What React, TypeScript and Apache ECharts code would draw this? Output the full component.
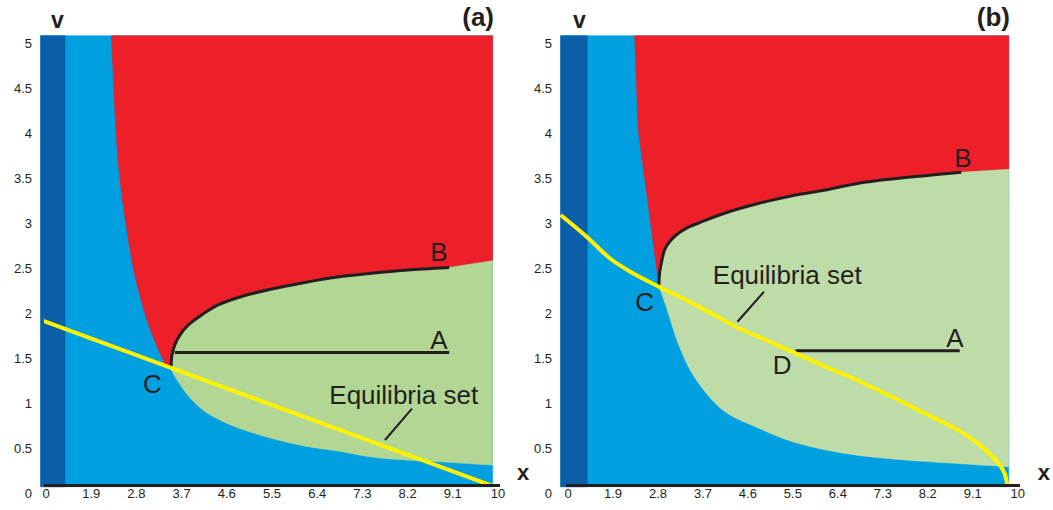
import React, { useEffect, useRef } from "react";
import * as echarts from "echarts";

// ---------- tick labels ----------
const xTickLabels = ["0", "1.9", "2.8", "3.7", "4.6", "5.5", "6.4", "7.3", "8.2", "9.1", "10"];
const yTickLabels = ["0", "0.5", "1", "1.5", "2", "2.5", "3", "3.5", "4", "4.5", "5"];

// ---------- panel (a) ----------
const aTop = 5.08;
const aRight = 9.88;
const aDarkRight = 0.42;
const aRedBlue = [[1.449, 5.08], [1.538, 4.127], [1.626, 3.533], [1.757, 3.033], [1.945, 2.469], [2.246, 1.903], [2.619, 1.451], [2.743, 1.394]];
const aCurveCB = [[2.765, 1.394], [2.772, 1.46], [2.785, 1.527], [2.845, 1.64], [2.958, 1.752], [3.144, 1.866], [3.445, 1.979], [3.819, 2.092], [4.345, 2.186], [4.945, 2.261], [5.695, 2.337], [6.445, 2.4], [7.195, 2.442], [7.942, 2.476], [8.92, 2.506]];
const aRedGreenEdge = 2.58;
const aBlueGreen = [[2.743, 1.394], [2.898, 1.256], [3.097, 1.111], [3.341, 0.978], [3.673, 0.856], [4.215, 0.73], [4.962, 0.611], [5.708, 0.523], [6.456, 0.467], [7.204, 0.4], [7.951, 0.367], [8.699, 0.347], [9.88, 0.31]];
const aLineCA = [[2.85, 1.56], [8.92, 1.56]];
const aEquilibria = [[-0.117, 1.922], [9.86, 0.083]];
const aLeader = [[8.097, 0.937], [7.5, 0.589]];
const aFrame = [[-0.117, 5.35], [-0.117, 0.083], [10.75, 0.083]];
const aNotes = [
  { t: "C", p: [2.356, 1.207] },
  { t: "B", p: [8.695, 2.678] },
  { t: "A", p: [8.695, 1.697] },
  { t: "Equilibria set", p: [7.914, 1.089] },
];

// ---------- panel (b) ----------
const bTop = 5.08;
const bRight = 9.8;
const bDarkRight = 0.427;
const bRedBlue = [[1.482, 5.08], [1.558, 4.122], [1.593, 3.922], [1.741, 3.367], [1.887, 2.811], [2.02, 2.303]];
const bCurveCB = [[2.02, 2.303], [2.035, 2.441], [2.073, 2.552], [2.146, 2.7], [2.257, 2.792], [2.405, 2.867], [2.626, 2.941], [2.92, 3.003], [3.511, 3.114], [4.248, 3.219], [4.985, 3.303], [5.723, 3.367], [6.46, 3.441], [7.197, 3.489], [7.936, 3.526], [8.745, 3.563]];
const bRedGreenEdge = 3.597;
const bBlueGreen = [[2.02, 2.303], [2.184, 2.07], [2.478, 1.626], [2.852, 1.256], [3.454, 0.916], [4.206, 0.727], [4.958, 0.576], [5.71, 0.481], [6.462, 0.417], [7.215, 0.379], [7.969, 0.349], [8.721, 0.326], [9.8, 0.292]];
const bLineDA = [[5.06, 1.58], [8.71, 1.58]];
const bEquilibria = [[-0.162, 3.089], [0.414, 2.848], [0.929, 2.608], [1.445, 2.441], [2.02, 2.292], [2.772, 2.107], [3.732, 1.848], [4.396, 1.7], [5.06, 1.552], [5.724, 1.403], [6.416, 1.256], [7.212, 1.067], [7.965, 0.878], [8.673, 0.7], [9.071, 0.567], [9.381, 0.433], [9.602, 0.311], [9.712, 0.211], [9.768, 0.083]];
const bLeader = [[4.358, 2.237], [3.768, 1.903]];
const bFrame = [[-0.162, 5.34], [-0.162, 0.083], [10.75, 0.083]];
const bNotes = [
  { t: "C", p: [1.704, 2.126] },
  { t: "D", p: [4.763, 1.422] },
  { t: "A", p: [8.6, 1.719] },
  { t: "B", p: [8.783, 3.719] },
  { t: "Equilibria set", p: [4.874, 2.422] },
];

// ---------- colours ----------
const DARK_BLUE = "#0b5ea8";
const LIGHT_BLUE = "#009fdf";
const RED = "#ed1f29";
const GREEN_A = "#b2d795";
const GREEN_B = "#bedca8";
const INK = "#231f20";
const YELLOW = "#fff200";
const BOTTOM = 0.07;
const LEFT_A = -0.117;
const LEFT_B = -0.162;

type P = number[];
type Piece = { pts: P[]; smooth: boolean };

const f = (n: number) => n.toFixed(2);

// Build SVG path data from pixel-space pieces (Catmull-Rom for smooth pieces).
function buildPath(pieces: { pts: number[][]; smooth: boolean }[], close: boolean) {
  let d = "";
  pieces.forEach((pc, k) => {
    const pts = pc.pts;
    d += (k === 0 ? "M" : " L") + f(pts[0][0]) + "," + f(pts[0][1]);
    for (let i = 0; i < pts.length - 1; i++) {
      const p1 = pts[i];
      const p2 = pts[i + 1];
      if (!pc.smooth) {
        d += " L" + f(p2[0]) + "," + f(p2[1]);
        continue;
      }
      const p0 = pts[i - 1] || p1;
      const p3 = pts[i + 2] || p2;
      const c1x = p1[0] + (p2[0] - p0[0]) / 6;
      const c1y = p1[1] + (p2[1] - p0[1]) / 6;
      const c2x = p2[0] - (p3[0] - p1[0]) / 6;
      const c2y = p2[1] - (p3[1] - p1[1]) / 6;
      d += " C" + f(c1x) + "," + f(c1y) + " " + f(c2x) + "," + f(c2y) + " " + f(p2[0]) + "," + f(p2[1]);
    }
  });
  if (close) d += " Z";
  return d;
}

function region(gi: number, pieces: Piece[], color: string, z: number) {
  return {
    type: "custom",
    xAxisIndex: gi,
    yAxisIndex: gi,
    silent: true,
    clip: false,
    z,
    data: [pieces[0].pts[0]],
    renderItem: (_params: any, api: any) => ({
      type: "path",
      shape: {
        pathData: buildPath(
          pieces.map((pc) => ({ pts: pc.pts.map((p) => api.coord(p)), smooth: pc.smooth })),
          true
        ),
      },
      style: { fill: color, stroke: color, lineWidth: 0.6 },
    }),
  };
}

function curve(gi: number, pts: P[], color: string, width: number, z: number) {
  return {
    type: "custom",
    xAxisIndex: gi,
    yAxisIndex: gi,
    silent: true,
    clip: false,
    z,
    data: pts,
    renderItem: (params: any, api: any) => {
      if (params.dataIndex !== 0) return null;
      return {
        type: "path",
        shape: { pathData: buildPath([{ pts: pts.map((p) => api.coord(p)), smooth: true }], false) },
        style: { fill: "none", stroke: color, lineWidth: width, lineCap: "butt", lineJoin: "round" },
      };
    },
  };
}

function line(gi: number, pts: P[], color: string, width: number, z: number) {
  return {
    type: "line",
    xAxisIndex: gi,
    yAxisIndex: gi,
    data: pts,
    symbol: "none",
    silent: true,
    clip: false,
    z,
    lineStyle: { color, width, cap: "butt", join: "miter" },
  };
}

function notes(gi: number, items: { t: string; p: P }[]) {
  return {
    type: "custom",
    xAxisIndex: gi,
    yAxisIndex: gi,
    silent: true,
    clip: false,
    z: 20,
    data: [items[0].p],
    renderItem: (_params: any, api: any) => ({
      type: "group",
      children: items.map((it) => {
        const c = api.coord(it.p);
        return {
          type: "text",
          x: c[0],
          y: c[1],
          style: {
            text: it.t,
            fill: INK,
            fontSize: 26,
            fontFamily: "Liberation Sans",
            align: "center",
            verticalAlign: "middle",
          },
        };
      }),
    }),
  };
}

function panelSeries(
  gi: number,
  left: number,
  top: number,
  right: number,
  darkRight: number,
  redBlue: P[],
  cb: P[],
  redGreenEdge: number,
  blueGreen: P[],
  green: string,
  hline: P[],
  yellow: P[],
  yellowSmooth: boolean,
  leader: P[],
  frame: P[],
  items: { t: string; p: P }[]
) {
  const lightBlue: Piece[] = [{ pts: [[left, BOTTOM], [right, BOTTOM], [right, top], [left, top]], smooth: false }];
  const darkBlue: Piece[] = [{ pts: [[left, BOTTOM], [darkRight, BOTTOM], [darkRight, top], [left, top]], smooth: false }];
  const red: Piece[] = [
    { pts: redBlue, smooth: true },
    { pts: cb, smooth: true },
    { pts: [cb[cb.length - 1], [right, redGreenEdge], [right, top]], smooth: false },
  ];
  const greenPieces: Piece[] = [
    { pts: cb, smooth: true },
    { pts: [cb[cb.length - 1], [right, redGreenEdge], blueGreen[blueGreen.length - 1]], smooth: false },
    { pts: blueGreen.slice().reverse(), smooth: true },
  ];
  return [
    region(gi, lightBlue, LIGHT_BLUE, 1),
    region(gi, darkBlue, DARK_BLUE, 2),
    region(gi, red, RED, 3),
    region(gi, greenPieces, green, 4),
    line(gi, hline, INK, 3, 6),
    curve(gi, cb, INK, 3, 6),
    yellowSmooth ? curve(gi, yellow, YELLOW, 4, 7) : line(gi, yellow, YELLOW, 4, 7),
    line(gi, leader, INK, 2, 8),
    line(gi, frame, INK, 3, 9),
    notes(gi, items),
  ];
}

const xFormatter = (v: number) => {
  const i = Math.round(v);
  return Math.abs(v - i) < 1e-6 && xTickLabels[i] !== undefined ? xTickLabels[i] : "";
};
const yFormatter = (v: number) => {
  const i = Math.round(v / 0.5);
  return Math.abs(v - i * 0.5) < 1e-6 && yTickLabels[i] !== undefined ? yTickLabels[i] : "";
};

const labelStyle = { fontSize: 13, color: INK, fontFamily: "Liberation Sans" };

function xAxis(gi: number, gap: number) {
  return {
    gridIndex: gi,
    type: "value",
    min: 0,
    max: 10,
    interval: 1,
    offset: -8,
    axisLine: { show: false },
    axisTick: { show: false },
    splitLine: { show: false },
    axisLabel: { ...labelStyle, margin: 2, formatter: xFormatter },
    name: "x",
    nameLocation: "end",
    nameGap: gap,
    nameTextStyle: {
      fontSize: 22,
      fontWeight: "bold",
      color: INK,
      fontFamily: "Liberation Sans",
      align: "left",
      verticalAlign: "bottom",
      padding: [0, 0, 2, 0],
    },
  };
}

function yAxis(gi: number, offset: number) {
  return {
    gridIndex: gi,
    type: "value",
    min: 0,
    max: 5.1,
    interval: 0.5,
    offset,
    axisLine: { show: false },
    axisTick: { show: false },
    splitLine: { show: false },
    axisLabel: { ...labelStyle, margin: 9, formatter: yFormatter, showMaxLabel: false },
    name: "v",
    nameLocation: "end",
    nameGap: 3,
    nameTextStyle: {
      fontSize: 23,
      fontWeight: "bold",
      color: INK,
      fontFamily: "Liberation Sans",
      align: "left",
      verticalAlign: "bottom",
      padding: [0, 0, 0, 5],
    },
  };
}

const option: any = {
  animation: false,
  backgroundColor: "#ffffff",
  title: [
    {
      text: "(a)",
      right: 1053 - 494,
      top: 4,
      padding: 0,
      textStyle: { fontSize: 26, fontWeight: "bold", color: INK, fontFamily: "Liberation Sans" },
    },
    {
      text: "(b)",
      right: 1053 - 1010,
      top: 4,
      padding: 0,
      textStyle: { fontSize: 26, fontWeight: "bold", color: INK, fontFamily: "Liberation Sans" },
    },
  ],
  grid: [
    { left: 46, top: 34, width: 452, height: 459 },
    { left: 568, top: 34, width: 452, height: 459 },
  ],
  xAxis: [xAxis(0, 19), xAxis(1, 20)],
  yAxis: [yAxis(0, 5), yAxis(1, 7)],
  series: [
    ...panelSeries(0, LEFT_A, aTop, aRight, aDarkRight, aRedBlue, aCurveCB, aRedGreenEdge, aBlueGreen, GREEN_A, aLineCA, aEquilibria, false, aLeader, aFrame, aNotes),
    ...panelSeries(1, LEFT_B, bTop, bRight, bDarkRight, bRedBlue, bCurveCB, bRedGreenEdge, bBlueGreen, GREEN_B, bLineDA, bEquilibria, true, bLeader, bFrame, bNotes),
  ],
};

export default function App() {
  const ref = useRef<HTMLDivElement>(null);
  useEffect(() => {
    if (!ref.current) return;
    const chart = echarts.init(ref.current, null, { renderer: "svg" });
    chart.setOption(option);
    return () => chart.dispose();
  }, []);
  return (
    <div
      ref={ref}
      style={{ position: "fixed", left: 0, top: 0, width: 1053, height: 510, background: "#fff" }}
    />
  );
}
